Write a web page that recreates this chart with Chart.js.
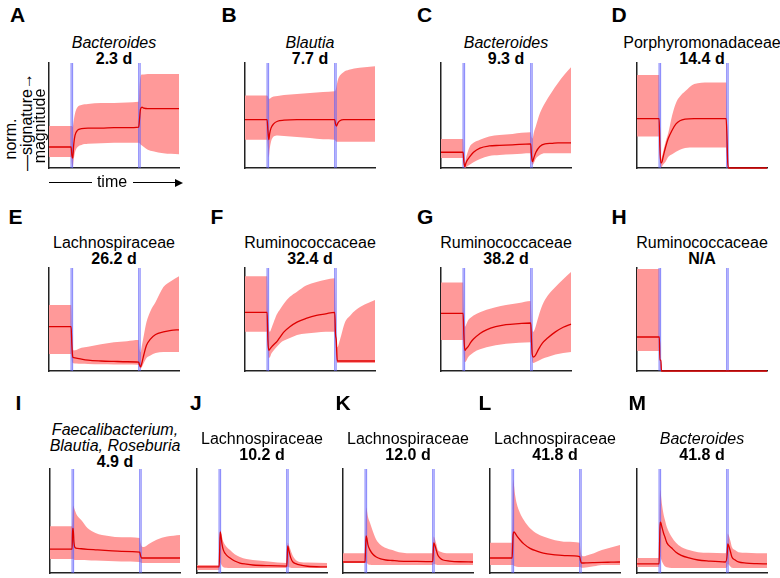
<!DOCTYPE html>
<html>
<head>
<meta charset="UTF-8">
<title>signature panels</title>
<script src="https://cdn.jsdelivr.net/npm/chart.js"></script>
<style>
  body { margin: 0; background: #fff; font-family: "Liberation Sans", Arial, sans-serif; color: #000; }
  #fig { position: relative; width: 780px; height: 578px; overflow: hidden; }
  .letter { position: absolute; font-weight: bold; font-size: 21px; line-height: 21px; }
  .ttl { position: absolute; width: 180px; text-align: center; font-size: 16px; line-height: 16px; white-space: nowrap; }
  .panel { position: absolute; }
  .ylab { position: absolute; font-size: 16px; line-height: 16px; white-space: nowrap; transform: translate(-50%, -50%) rotate(-90deg); }
  .hline { position: absolute; height: 1.3px; background: #000; }
</style>
</head>
<body>
<div id="fig"></div>

<script>
// ---- data (x in % of time window, y in % of panel height) ----
const xA   = [0, 17, 17.6, 18.3, 19, 20, 22, 25, 30, 40, 50, 60, 69, 69.6, 70.4, 71.5, 73, 76, 80, 88, 100];
const medA = [20, 20, 12, 9.5, 22, 31, 36, 37.5, 38, 38, 38.5, 38.5, 39, 46, 56, 58, 57, 56.5, 56.5, 56.5, 56.5];
const upA  = [40, 40, 40, 39, 45, 52, 58, 60, 61, 62, 62, 62.5, 63, 76, 87, 89, 89, 89.5, 89.5, 89.5, 89.5];
const loA  = [10.5, 10.5, 4, 1, 8, 15, 20, 22, 23, 23.5, 24, 24, 24, 23.5, 22.5, 21.5, 20, 17.5, 16, 14, 13];

const xB   = [0, 17, 17.6, 18.3, 19, 20, 22, 25, 30, 40, 50, 60, 69, 69.6, 70.4, 71.5, 73, 76, 80, 88, 100];
const medB = [46, 46, 36, 27, 33, 38, 42, 44.5, 45.5, 46, 46, 46, 46, 42, 40, 43, 45, 46, 46, 46, 46];
const upB  = [69, 69, 68, 66, 66, 67, 68, 68.5, 69.5, 70.5, 71.5, 72.5, 73, 74, 78, 84, 88, 91.5, 93.5, 95.5, 97];
const loB  = [27, 27, 20, 10, 18, 25, 30, 31, 30.5, 29.5, 28.5, 27.5, 27, 26, 25, 25, 25, 25, 25, 25, 25];

const xC   = [0, 17, 17.6, 18.3, 19, 20, 22, 25, 30, 37, 45, 55, 69, 69.6, 70.4, 71.5, 73, 76, 80, 85, 90, 95, 100];
const medC = [15, 15, 6, 1, 4, 7, 10.5, 15, 19, 21, 21.5, 22, 23, 12, 6, 10, 15, 20.5, 23, 23.5, 24, 24, 24];
const upC  = [27.6, 27.6, 10, 2, 8, 13, 20, 24, 27, 30, 31.5, 32.5, 34, 30, 28, 34, 40, 52, 62, 72, 81, 89, 96];
const loC  = [9.5, 9.5, 3, 0, 0.5, 1.5, 3, 5.5, 8.5, 11.5, 12.5, 13, 14, 6, 3, 5, 9, 12.5, 14, 14, 14, 14, 14];

const xD   = [0, 17, 17.6, 18.3, 19, 20, 22, 24, 27, 30, 33, 37, 44, 55, 68.6, 69.2, 69.8, 70.5, 100];
const medD = [47, 47, 20, 5, 5, 10, 20, 28, 36, 42, 45, 46.5, 47, 47, 47, 30, 5, 0, 0];
const upD  = [88.6, 88.6, 30, 8, 10, 15, 25, 33, 50, 62, 68, 73, 80, 81.5, 81.5, 50, 8, 0, 0];
const loD  = [30, 30, 8, 1, 1, 3, 6, 10.5, 13, 15.5, 17.5, 19, 19.5, 19.5, 19.5, 10, 2, 0, 0];

const xE   = [0, 17, 17.6, 18.3, 19, 21, 25, 30, 40, 50, 60, 69, 69.6, 70.4, 71.5, 73, 75, 78, 82, 88, 94, 100];
const medE = [43, 43, 25, 13.6, 13, 12.6, 11.5, 10.5, 9.7, 9.3, 9, 8.7, 6, 4, 8, 16, 25, 31, 35.5, 38, 39.5, 40];
const upE  = [64, 64, 40, 22, 20, 20.4, 22.5, 23.6, 26, 28, 29, 30, 22, 18, 25, 35, 47.5, 58, 67, 81.5, 87.5, 92];
const loE  = [16.5, 16.5, 10, 7.8, 7.5, 7.3, 7, 6.8, 6.5, 6.3, 6.2, 6, 4, 2.5, 4, 8, 12.6, 15, 17.5, 18.5, 18.5, 18.5];

const xF   = [0, 17, 17.6, 18.3, 19, 20.5, 22, 24.5, 27, 30, 34.5, 40, 47, 55, 62, 69, 69.6, 70.2, 71, 73, 77, 81, 85, 92, 100];
const medF = [57, 57, 30, 20, 21, 23.5, 25.5, 28.5, 33, 38, 43, 47.5, 51, 54, 55.5, 57, 36, 30, 9.7, 9.7, 9.7, 9.7, 9.7, 9.7, 9.7];
const upF  = [92, 92, 60, 42, 38, 42, 47, 55, 60, 65.5, 72, 77, 83, 86.5, 88.5, 90, 60, 28, 23, 30, 47.5, 54, 59, 64.5, 69];
const loF  = [38, 38, 22, 12.6, 13, 17.5, 20, 23.5, 27, 29.5, 32, 35, 36.5, 37.5, 38, 38, 25, 12, 7.8, 7.8, 7.8, 7.8, 7.8, 7.8, 7.8];

const xG   = [0, 17, 17.6, 18.3, 19, 21, 23, 25, 30, 35, 42, 50, 60, 69, 69.6, 70.2, 71, 72.5, 75, 78, 82, 88, 94, 100];
const medG = [56, 56, 35, 20, 21, 24, 28, 31, 36.5, 40, 43, 45, 46, 46.6, 30, 16, 13.6, 15, 21, 27, 32, 38, 42.5, 45.6];
const upG  = [86, 86, 60, 43, 44, 49.5, 52, 54, 57, 59.5, 62, 64, 66, 68, 50, 40, 38, 42, 53, 64, 73, 81.5, 89, 96];
const loG  = [30, 30, 15, 8.7, 9, 13.6, 16, 18, 21, 23, 25, 26.5, 27.5, 28, 18, 9, 7.8, 8.5, 10, 12, 13.6, 16, 17.5, 18.5];

const xH   = [0, 16.5, 17.2, 17.6, 18.4, 18.8, 20, 100];
const medH = [33, 33, 33, 10.5, 10.5, 0, 0, 0];
const upH  = [99, 99, 99, 0, 0, 0, 0, 0];
const loH  = [19.4, 19.4, 19.4, 0, 0, 0, 0, 0];

const xI   = [0, 17, 17.4, 17.8, 18.4, 19.2, 21, 24, 29, 35, 45, 55, 69, 69.6, 70.4, 72, 76, 82, 90, 100];
const medI = [23, 23, 43, 43, 30, 24.5, 23.7, 23.3, 22.8, 22.3, 21.5, 20.8, 20, 17, 14.4, 14.4, 14.4, 14.4, 14.4, 14.4];
const upI  = [45, 45, 55, 65, 63, 60, 55, 51, 43, 38.5, 35.5, 34.3, 33.6, 29, 26, 25, 28, 32, 35, 36.5];
const loI  = [13.5, 13.5, 13.5, 14, 13, 12.5, 12.5, 12.5, 12.3, 12, 11.5, 11, 10.6, 10, 9.6, 9.6, 9.6, 9.6, 9.6, 9.6];

const xJ   = [0, 17, 17.4, 17.8, 18.4, 19.2, 20.3, 22.5, 25.4, 29, 33, 38, 43, 55, 69, 69.4, 69.8, 70.6, 72, 73.5, 76, 79, 85, 100];
const medJ = [5.8, 5.8, 20, 39.4, 36, 28, 22, 17.5, 14.4, 11.5, 9.6, 8.5, 7.7, 7, 6.7, 15, 26, 22, 15, 11, 9, 7.7, 6.5, 5.8];
const upJ  = [7.7, 7.7, 22, 41, 40, 35, 30, 25.5, 22, 18, 15.4, 13.5, 12.5, 11, 9.6, 18, 29, 27, 22, 17, 12.5, 10.6, 10, 9.6];
const loJ  = [3, 3, 5, 10, 9, 7, 5.5, 5, 4.8, 4.8, 4.8, 4.8, 4.8, 4.8, 4.8, 5.5, 6, 5.5, 5, 4.8, 4.8, 4.8, 4.8, 4.8];

const xK   = [0, 17, 17.4, 17.8, 18.4, 19.2, 20.8, 23, 25.6, 29, 33, 38, 43, 55, 69, 69.4, 69.8, 70.6, 72, 73, 75, 77, 82, 90, 100];
const medK = [10.6, 10.6, 25, 35.6, 33, 27, 22, 18, 15.4, 13.5, 12.5, 12, 11.5, 11.2, 11, 20, 29, 27, 21, 17, 14, 12.5, 11.5, 10.8, 10.6];
const upK  = [19, 19, 45, 63, 60, 54, 48, 40, 32, 27, 24, 22, 20, 19, 19, 28, 35, 33, 27, 22, 20.5, 19.5, 19, 19, 19];
const loK  = [9.6, 9.6, 9.6, 10, 9.5, 8.5, 8, 7.7, 7.7, 7.7, 7.7, 7.7, 7.7, 7.7, 7.7, 8, 9, 8.5, 8, 7.7, 7.7, 7.7, 7.7, 7.7, 7.7];

const xL   = [0, 17, 17.4, 17.8, 18.4, 19.2, 20.5, 23, 26, 30.8, 36, 41, 50, 59, 69, 69.6, 70.4, 72, 75, 80, 86, 93, 100];
const medL = [14.4, 14.4, 25, 37, 39.5, 38.5, 36, 32, 28, 23.7, 21, 19, 17.5, 16.7, 15.7, 12, 9.6, 9.6, 9.8, 10, 10.2, 10.4, 10.6];
const upL  = [29, 29, 60, 90, 85, 76, 67, 58, 51, 43, 38, 35, 31.5, 30, 29, 22, 17, 16, 17, 19, 22, 24.5, 27];
const loL  = [7.7, 7.7, 7.7, 7.7, 7, 6.5, 6, 5.8, 5.8, 5.8, 5.8, 5.8, 5.8, 5.8, 5.8, 5.5, 5, 5, 5.5, 6.5, 7.7, 7.7, 7.7];

const xM   = [0, 17, 17.4, 17.8, 18.4, 19.2, 20.5, 21.5, 23, 26.7, 30, 34, 40, 47, 55, 68, 69.4, 69.8, 70.6, 72, 73, 75.5, 78, 84, 92, 100];
const medM = [8.7, 8.7, 30, 49, 48, 44, 38, 34.6, 29, 24, 20, 17, 14.5, 12.5, 11.5, 10.6, 18, 28, 26, 20, 15.4, 12.5, 10.6, 9.5, 9, 8.7];
const upM  = [14.4, 14.4, 50, 80, 75, 66, 56, 51, 44, 34.6, 29, 25, 22, 20, 19.5, 19, 28, 38, 36, 30, 25, 22, 20, 19.5, 19, 19];
const loM  = [5.8, 5.8, 10, 16, 14, 11, 8, 6.5, 5.5, 4.8, 4.8, 4.8, 4.8, 4.8, 4.8, 4.8, 6, 9, 8, 6, 5, 4.8, 4.8, 4.8, 4.8, 4.8];

// perturbation windows (blue lines)
const cuts = [17.5, 69.5];

// ---- layout ----
const panels = [
  { id: 'A', x: xA, med: medA, up: upA, lo: loA, left: 49,  top: 63,  h: 105, lx: 10,    ly: 4,   tt: 35,  title: '<i>Bacteroides</i><br><b>2.3 d</b>' },
  { id: 'B', x: xB, med: medB, up: upB, lo: loB, left: 245, top: 63,  h: 105, lx: 221.5, ly: 4,   tt: 35,  title: '<i>Blautia</i><br><b>7.7 d</b>' },
  { id: 'C', x: xC, med: medC, up: upC, lo: loC, left: 441, top: 63,  h: 105, lx: 417,   ly: 4,   tt: 35,  title: '<i>Bacteroides</i><br><b>9.3 d</b>' },
  { id: 'D', x: xD, med: medD, up: upD, lo: loD, left: 637, top: 63,  h: 105, lx: 611.5, ly: 4,   tt: 35,  title: 'Porphyromonadaceae<br><b>14.4 d</b>' },
  { id: 'E', x: xE, med: medE, up: upE, lo: loE, left: 49,  top: 268, h: 103, lx: 8.5,   ly: 206, tt: 235, title: 'Lachnospiraceae<br><b>26.2 d</b>' },
  { id: 'F', x: xF, med: medF, up: upF, lo: loF, left: 245, top: 268, h: 103, lx: 210.5, ly: 206, tt: 235, title: 'Ruminococcaceae<br><b>32.4 d</b>' },
  { id: 'G', x: xG, med: medG, up: upG, lo: loG, left: 441, top: 268, h: 103, lx: 417,   ly: 206, tt: 235, title: 'Ruminococcaceae<br><b>38.2 d</b>' },
  { id: 'H', x: xH, med: medH, up: upH, lo: loH, left: 637, top: 268, h: 103, lx: 611.5, ly: 206, tt: 235, title: 'Ruminococcaceae<br><b>N/A</b>' },
  { id: 'I', x: xI, med: medI, up: upI, lo: loI, left: 50,  top: 469, h: 104, lx: 15.5,  ly: 392, tt: 422, title: '<i>Faecalibacterium,<br>Blautia, Roseburia</i><br><b>4.9 d</b>' },
  { id: 'J', x: xJ, med: medJ, up: upJ, lo: loJ, left: 197, top: 469, h: 104, lx: 190,   ly: 392, tt: 431, title: 'Lachnospiraceae<br><b>10.2 d</b>' },
  { id: 'K', x: xK, med: medK, up: upK, lo: loK, left: 343, top: 469, h: 104, lx: 335.5, ly: 392, tt: 431, title: 'Lachnospiraceae<br><b>12.0 d</b>' },
  { id: 'L', x: xL, med: medL, up: upL, lo: loL, left: 490, top: 469, h: 104, lx: 478.5, ly: 392, tt: 431, title: 'Lachnospiraceae<br><b>41.8 d</b>' },
  { id: 'M', x: xM, med: medM, up: upM, lo: loM, left: 637, top: 469, h: 104, lx: 628.5, ly: 392, tt: 431, title: '<i>Bacteroides</i><br><b>41.8 d</b>' }
];

const W = 130, PAD = 4;
const band = 'rgb(255,153,153)';
const red = 'rgb(222,0,0)';
const blue = 'rgba(95,95,250,0.7)';
const fig = document.getElementById('fig');

function pts(xs, ys) {
  return xs.map(function (x, i) { return { x: x, y: ys[i] }; });
}

function addDiv(cls, html, left, top) {
  const d = document.createElement('div');
  d.className = cls;
  d.innerHTML = html;
  d.style.left = left + 'px';
  d.style.top = top + 'px';
  fig.appendChild(d);
  return d;
}

panels.forEach(function (p) {
  addDiv('letter', p.id, p.lx, p.ly);
  addDiv('ttl', p.title, p.left + W / 2 - 90, p.tt);

  const cv = document.createElement('canvas');
  cv.className = 'panel';
  cv.width = W + 2 * PAD;
  cv.height = p.h + 2 * PAD;
  cv.style.left = (p.left - PAD) + 'px';
  cv.style.top = (p.top - PAD) + 'px';
  fig.appendChild(cv);

  const datasets = [
    { data: pts(p.x, p.med), borderColor: red, borderWidth: 1.3, fill: false, order: 0 },
    { data: pts(p.x, p.up), borderColor: 'rgba(0,0,0,0)', borderWidth: 0, backgroundColor: band, fill: '+1', order: 2 },
    { data: pts(p.x, p.lo), borderColor: 'rgba(0,0,0,0)', borderWidth: 0, fill: false, order: 2 }
  ];
  cuts.forEach(function (c) {
    [c - 0.5, c + 0.6].forEach(function (cx) {
      datasets.push({
        data: [{ x: cx, y: 0 }, { x: cx, y: 100 }],
        borderColor: blue, borderWidth: 1.2, fill: false, order: 1,
        cubicInterpolationMode: 'default', tension: 0
      });
    });
  });

  const axis = {
    min: 0, max: 100,
    grid: { display: false, drawTicks: false },
    ticks: { display: false },
    border: { display: true, color: '#222', width: 1.5 }
  };

  new Chart(cv.getContext('2d'), {
    type: 'line',
    data: { datasets: datasets },
    options: {
      responsive: false,
      animation: false,
      events: [],
      layout: { padding: PAD },
      clip: 3,
      plugins: { legend: { display: false }, tooltip: { enabled: false } },
      elements: { point: { radius: 0 }, line: { cubicInterpolationMode: 'monotone' } },
      scales: {
        x: Object.assign({ type: 'linear' }, axis),
        y: Object.assign({ type: 'linear' }, axis)
      }
    }
  });
});

// y label and time arrow (panel A)
const yl = [['norm.', 11, 139], ['\u2014signature\u2192', 27, 122], ['magnitude', 40, 126]];
yl.forEach(function (t) { addDiv('ylab', t[0], t[1], t[2]); });

const l1 = addDiv('hline', '', 49, 182);  l1.style.width = '43px';
const l2 = addDiv('hline', '', 133, 182); l2.style.width = '44px';
const tm = addDiv('ttl', 'time', 112 - 90, 174);
const ah = addDiv('', '', 175, 178.5);
ah.style.position = 'absolute';
ah.style.width = '0'; ah.style.height = '0';
ah.style.borderTop = '4px solid transparent';
ah.style.borderBottom = '4px solid transparent';
ah.style.borderLeft = '8px solid #000';
</script>
</body>
</html>
